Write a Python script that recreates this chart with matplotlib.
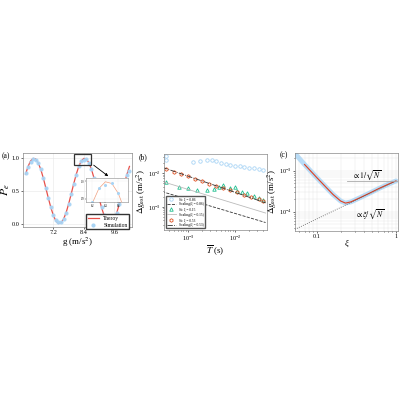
import matplotlib
matplotlib.use("Agg")
import matplotlib.pyplot as plt
import numpy as np

plt.rcParams['font.family'] = ['Liberation Serif', 'DejaVu Serif']
plt.rcParams['mathtext.fontset'] = 'stix'

# ---- panel (a) data
g_theory = [6.1,6.2,6.3,6.4,6.5,6.6,6.7,6.8,6.9,7.0,7.1,7.2,7.3,7.4,7.5,7.6,7.7,7.8,7.9,8.0,8.1,
            8.2,8.3,8.4,8.5,8.6,8.7,8.8,8.9,9.0,9.1,9.2,9.3,9.4,9.5,9.6,9.7,9.8,9.9,10.0,10.1,10.2]
pe_theory = [.754,.875,.959,.998,.988,.930,.831,.699,.547,.391,.246,.125,.041,.002,.012,.070,.169,.301,.453,.609,.754,
             .875,.959,.998,.988,.930,.831,.699,.547,.391,.246,.125,.041,.002,.012,.070,.169,.301,.453,.609,.754,.875]
pe_sim = [.78,.87,.95,.99,.98,.93,.83,.70,.55,.39,.25,.13,.05,.02,.02,.07,.17,.30,.45,.61,.75,
          .88,.96,.98,.99,.93,.83,.70,.55,.39,.25,.13,.04,.01,.02,.07,.17,.30,.45,.61,.75,.80]

# ---- panel (b) data (log10 values)
T_blue = [-3.47,-3.47,-2.9,-2.75,-2.6,-2.5,-2.4,-2.3,-2.2,-2.1,-2.0,-1.9,-1.8,-1.7,-1.6,-1.5,-1.4]
y_blue = [-1.50,-1.62,-1.68,-1.66,-1.62,-1.63,-1.65,-1.70,-1.72,-1.75,-1.78,-1.80,-1.82,-1.84,-1.86,-1.88,-1.90]
T_red = [-3.47,-3.3,-3.15,-3.0,-2.85,-2.7,-2.55,-2.4,-2.25,-2.1,-1.95,-1.8,-1.65,-1.5,-1.4]
y_red = [-1.88,-1.97,-2.03,-2.10,-2.17,-2.24,-2.31,-2.38,-2.45,-2.50,-2.57,-2.64,-2.72,-2.78,-2.83]
T_green = [-3.47,-3.2,-3.0,-2.8,-2.6,-2.45,-2.35,-2.25,-2.1,-2.0,-1.95,-1.85,-1.75,-1.6,-1.5,-1.4]
y_green = [-2.27,-2.40,-2.45,-2.50,-2.50,-2.48,-2.40,-2.35,-2.45,-2.40,-2.52,-2.55,-2.60,-2.68,-2.74,-2.80]
T_line = [-3.55, -1.35]
y_dashdot = [-1.83, -2.88]
y_gray = [-2.25, -3.18]
y_dashed = [-2.55, -3.46]

# ---- panel (c) data
xi = [0.055,0.07,0.1,0.13,0.16,0.2,0.23,0.27,0.35,0.45,0.6,0.8,1.0]
logdg = [-2.62,-2.85,-3.17,-3.40,-3.58,-3.74,-3.79,-3.76,-3.66,-3.56,-3.44,-3.33,-3.25]
xi_lin = [0.053, 1.0]
log_lin = [-4.43, -3.25]
xi_flat = [0.24, 1.05]
log_flat = [-3.25, -3.25]

fig = plt.figure(figsize=(4, 4), dpi=100)
lblue = '#a8d4f5'
fs = 5.5

# (a)
ax = fig.add_axes([0.0575, 0.4325, 0.2725, 0.185])
ax.plot(g_theory, pe_theory, color='#e8504a', lw=0.9, zorder=2)
ax.plot(g_theory, pe_sim, 'o', ms=2, color=lblue, zorder=3, alpha=0.9)
ax.plot([], [], color='#e8504a', lw=0.9, label='Theroy')
ax.plot([], [], 'o', ms=2, color=lblue, label='Simulation')
ax.set_xlim(6.0, 10.3)
ax.set_ylim(-0.05, 1.08)
ax.set_xticks([7.2, 8.4, 9.6])
ax.set_yticks([0, 0.5, 1.0])
ax.set_yticklabels(['0.0', '0.5', '1.0'])
ax.tick_params(labelsize=4.5, length=1.5, width=0.4, pad=1)
ax.grid(color='#e6e6e6', lw=0.4)
for s in ax.spines.values():
    s.set_color('#888888'); s.set_linewidth(0.5)
ax.set_xlabel('g (m/s$^2$)', fontsize=fs+1, labelpad=0)
ax.set_ylabel('$P_e$', fontsize=fs+3, labelpad=0)
ax.text(-0.2, 0.93, '(a)', transform=ax.transAxes, fontsize=fs)
ax.legend(loc='lower right', fontsize=4, handlelength=2, borderpad=0.3, labelspacing=0.3,
          framealpha=1, edgecolor='#333333', fancybox=False, bbox_to_anchor=(1.0, -0.07))
ax.add_patch(plt.Rectangle((8.0, 0.90), 0.7, 0.17, fill=False, lw=0.9, color='#333333', zorder=5))
ax.annotate('', xy=(9.45, 0.70), xytext=(8.7, 0.92),
            arrowprops=dict(arrowstyle='-|>', color='black', lw=0.6, mutation_scale=4))
ins = fig.add_axes([0.215, 0.495, 0.105, 0.06])
ins.plot(g_theory, pe_theory, color='#f0a080', lw=0.5)
ins.plot(g_theory, pe_sim, 'o', ms=1.2, color=lblue)
ins.set_xlim(8.1, 8.75); ins.set_ylim(0.88, 1.02)
ins.set_xticks([8.2, 8.4, 8.6]); ins.set_yticks([0.9, 1.0])
ins.tick_params(labelsize=2, length=0.8, width=0.3, pad=0.5)
ins.grid(color='#eeeeee', lw=0.3)
for s in ins.spines.values():
    s.set_linewidth(0.4); s.set_color('#888888')

# (b)
bx = fig.add_axes([0.41, 0.425, 0.2575, 0.19])
tb = 10 ** np.array(T_line)
bx.plot(10**np.array(T_blue), 10**np.array(y_blue), 'o', mfc='none', mec=lblue, ms=2.5, mew=0.6)
bx.plot(10**np.array(T_green), 10**np.array(y_green), '^', mfc='none', mec='#1fbf8f', ms=2.5, mew=0.6)
bx.plot(10**np.array(T_red), 10**np.array(y_red), 'h', mfc='none', mec='#e05020', ms=2.5, mew=0.6)
bx.plot(tb, 10**np.array(y_dashdot), color='#333333', ls='-.', lw=0.6)
bx.plot(tb, 10**np.array(y_gray), color='#bbbbbb', ls='-', lw=0.6)
bx.plot(tb, 10**np.array(y_dashed), color='#333333', ls='--', lw=0.6)
bx.set_xscale('log'); bx.set_yscale('log')
bx.set_xlim(10**-3.51, 10**-1.32)
bx.set_ylim(10**-3.68, 10**-1.44)
bx.tick_params(which='both', labelsize=4.5, length=1.5, width=0.4, pad=1)
bx.tick_params(which='minor', length=0.8)
for s in bx.spines.values():
    s.set_color('#888888'); s.set_linewidth(0.5)
bx.set_xlabel(r'$\overline{T}$ (s)', fontsize=fs+1, labelpad=0)
bx.set_ylabel(r'$\Delta g_{\rm est}$ (m/s$^2$)', fontsize=fs+1, labelpad=0)
bx.text(-0.25, 0.93, '(b)', transform=bx.transAxes, fontsize=fs)
hs = [plt.Line2D([], [], marker='o', ls='none', mfc='none', mec=lblue, ms=2.5, mew=0.6),
      plt.Line2D([], [], color='#333333', ls='--', lw=0.6),
      plt.Line2D([], [], marker='^', ls='none', mfc='none', mec='#1fbf8f', ms=2.5, mew=0.6),
      plt.Line2D([], [], color='#bbbbbb', lw=0.6),
      plt.Line2D([], [], marker='h', ls='none', mfc='none', mec='#e05020', ms=2.5, mew=0.6),
      plt.Line2D([], [], color='#333333', ls='-.', lw=0.6)]
ls = ['Si: ξ = 0.86', 'Scaling(ξ = 0.86)', 'Si: ξ = 0.15', 'Scaling(ξ = 0.15)',
      'Si: ξ = 0.53', 'Scaling(ξ = 0.53)']
bx.legend(hs, ls, loc='lower left', fontsize=2.6, handlelength=2.5, borderpad=0.3,
          labelspacing=0.35, framealpha=1, edgecolor='#555555', fancybox=False)

# (c)
cx = fig.add_axes([0.7375, 0.4225, 0.2575, 0.195])
cx.plot(xi, 10**np.array(logdg), color=lblue, lw=3.5, alpha=0.8, solid_capstyle='round')
cx.plot(xi[1:], 10**np.array(logdg[1:]), color='#e04020', lw=0.8)
cx.plot(xi_lin, 10**np.array(log_lin), color='#555555', ls=':', lw=0.6)
cx.plot(xi_flat, 10**np.array(log_flat), color='#aaaaaa', ls='-', lw=0.6)
cx.set_xscale('log'); cx.set_yscale('log')
cx.set_xlim(0.053, 1.06)
cx.set_ylim(10**-4.47, 10**-2.57)
cx.set_xticks([0.1, 1]); cx.set_xticklabels(['0.1', '1'])
cx.grid(which='both', color='#e8e8e8', lw=0.35)
cx.tick_params(which='both', labelsize=4.5, length=1.5, width=0.4, pad=1)
cx.tick_params(which='minor', length=0.8)
for s in cx.spines.values():
    s.set_color('#888888'); s.set_linewidth(0.5)
cx.set_xlabel('ξ', fontsize=fs+1, labelpad=0, style='italic')
cx.set_ylabel(r'$\Delta g_{\rm est}$ (m/s$^2$)', fontsize=fs+1, labelpad=0)
cx.text(-0.15, 0.95, '(c)', transform=cx.transAxes, fontsize=fs)
cx.text(0.28, 10**-3.17, r'$\propto 1/\sqrt{N}$', fontsize=fs)
cx.text(0.3, 10**-4.12, r'$\propto \xi/\sqrt{N}$', fontsize=fs)

fig.savefig('out.png', dpi=100)
